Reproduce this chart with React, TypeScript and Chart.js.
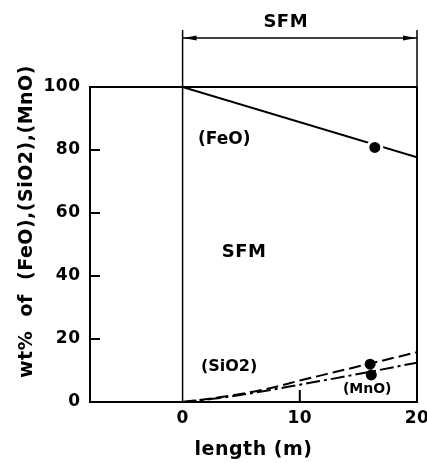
import React, { useEffect, useRef } from "react";
import { Chart, registerables } from "chart.js";

Chart.register(...registerables);

const FONT = "'DejaVu Sans', sans-serif";

// Data
const feoLength = [0, 20];
const feoValues = [100, 77.7];
const sio2Length = [0, 3, 7, 10, 13, 16, 20];
const sio2Values = [0, 1.4, 4.0, 6.8, 9.5, 12.2, 15.8];
const mnoLength = [0, 3, 7, 10, 13, 16, 20];
const mnoValues = [0, 1.2, 3.5, 5.5, 7.5, 9.6, 12.5];
const markerLength = [16.4, 16.0, 16.1];
const markerValues = [80.8, 12.0, 8.6];

const xTicks = [0, 10, 20];
const yTicks = [0, 20, 40, 60, 80, 100];
const innerYTicks = [20, 40, 60, 80];
const innerXTicks = [10];

const zoneStart = 0;
const zoneEnd = 20;
const zoneName = "SFM";

const labelTexts = ["(FeO)", "SFM", "(SiO2)", "(MnO)"];
const labelX = [3.55, 5.24, 3.97, 15.75];
const labelY = [83.2, 47.6, 11.1, 4.1];

const yTitle = "wt%  of  (FeO),(SiO2),(MnO)";
const xTitle = "length (m)";

const toXY = (xs: number[], ys: number[]) => xs.map((x, i) => ({ x, y: ys[i] }));

const labelStyle: Record<string, [string, string]> = {
  "(FeO)": ["bold 17px", "0px"],
  SFM: ["bold 18px", "0.5px"],
  "(SiO2)": ["bold 16px", "0px"],
  "(MnO)": ["bold 14px", "0px"],
};

const decor = {
  id: "decor",
  beforeDraw(chart: any) {
    chart.ctx.letterSpacing = "0.5px";
  },
  beforeDatasetsDraw(chart: any) {
    const { ctx, chartArea: a, scales } = chart;
    const x = scales.x;
    const y = scales.y;
    const line = (x1: number, y1: number, x2: number, y2: number) => {
      ctx.beginPath();
      ctx.moveTo(x1, y1);
      ctx.lineTo(x2, y2);
      ctx.stroke();
    };
    ctx.save();
    ctx.strokeStyle = "#000";
    ctx.fillStyle = "#000";
    ctx.lineCap = "butt";
    // frame
    ctx.lineWidth = 2;
    ctx.strokeRect(a.left, a.top, a.right - a.left, a.bottom - a.top);
    // inner ticks
    innerYTicks.forEach((v) => {
      const py = y.getPixelForValue(v);
      line(a.left, py, a.left + 10, py);
    });
    innerXTicks.forEach((v) => {
      const px = x.getPixelForValue(v);
      line(px, a.bottom, px, a.bottom - 12);
    });
    // zone bracket
    const x0 = x.getPixelForValue(zoneStart);
    const x1 = x.getPixelForValue(zoneEnd);
    ctx.lineWidth = 1.5;
    line(x0, a.top - 57, x0, a.bottom);
    line(x1, a.top - 57, x1, a.top);
    const ay = a.top - 49;
    line(x0, ay, x1, ay);
    ctx.beginPath();
    ctx.moveTo(x0 + 1, ay);
    ctx.lineTo(x0 + 14, ay - 2.6);
    ctx.lineTo(x0 + 14, ay + 2.6);
    ctx.closePath();
    ctx.fill();
    ctx.beginPath();
    ctx.moveTo(x1 - 1, ay);
    ctx.lineTo(x1 - 14, ay - 2.6);
    ctx.lineTo(x1 - 14, ay + 2.6);
    ctx.closePath();
    ctx.fill();
    ctx.restore();
  },
  afterDraw(chart: any) {
    const { ctx, chartArea: a, scales } = chart;
    const x = scales.x;
    const y = scales.y;
    ctx.save();
    ctx.fillStyle = "#000";
    ctx.textAlign = "center";
    ctx.textBaseline = "middle";
    // top zone label
    ctx.letterSpacing = "0.5px";
    ctx.font = `bold 18px ${FONT}`;
    ctx.fillText(zoneName, x.getPixelForValue(8.8), a.top - 65);
    // in-plot labels
    labelTexts.forEach((t, i) => {
      const [f, ls] = labelStyle[t];
      ctx.font = `${f} ${FONT}`;
      ctx.letterSpacing = ls;
      ctx.fillText(t, x.getPixelForValue(labelX[i]), y.getPixelForValue(labelY[i]));
    });
    // y title
    ctx.letterSpacing = "0.5px";
    ctx.font = `bold 19px ${FONT}`;
    ctx.translate(a.left - 63, (a.top + a.bottom) / 2 - 23);
    ctx.rotate(-Math.PI / 2);
    ctx.fillText(yTitle, 0, 0);
    ctx.restore();
  },
};

export default function App() {
  const ref = useRef<HTMLCanvasElement | null>(null);
  useEffect(() => {
    if (!ref.current) return;
    const chart = new Chart(ref.current, {
      type: "line",
      data: {
        datasets: [
          {
            label: "points",
            data: toXY(markerLength, markerValues),
            showLine: false,
            pointRadius: [7, 5.5, 5.5],
            pointBorderWidth: [3, 0, 0],
            pointBorderColor: "#fff",
            pointBackgroundColor: "#000",
          },
          {
            label: "(FeO)",
            data: toXY(feoLength, feoValues),
            borderColor: "#000",
            borderWidth: 2,
            pointRadius: 0,
          },
          {
            label: "(SiO2)",
            data: toXY(sio2Length, sio2Values),
            borderColor: "#000",
            borderWidth: 2,
            borderDash: [12, 5],
            pointRadius: 0,
            cubicInterpolationMode: "monotone",
          },
          {
            label: "(MnO)",
            data: toXY(mnoLength, mnoValues),
            borderColor: "#000",
            borderWidth: 2,
            borderDash: [14, 4, 3, 4],
            pointRadius: 0,
            cubicInterpolationMode: "monotone",
          },
        ],
      },
      options: {
        animation: false,
        responsive: true,
        maintainAspectRatio: false,
        layout: { padding: { left: 0, right: 8, top: 87, bottom: 0 } },
        plugins: { legend: { display: false }, tooltip: { enabled: false } },
        scales: {
          x: {
            type: "linear",
            min: -7.9,
            max: 20,
            afterBuildTicks: (s: any) => {
              s.ticks = xTicks.map((v) => ({ value: v }));
            },
            afterFit: (s: any) => {
              s.height = 61;
              s.paddingLeft = 0;
              s.paddingRight = 0;
            },
            grid: { display: false, drawTicks: false },
            border: { display: false },
            ticks: {
              color: "#000",
              font: { family: FONT, size: 17, weight: "bold" },
              padding: 6,
              maxRotation: 0,
              autoSkip: false,
            },
            title: {
              display: true,
              text: xTitle,
              color: "#000",
              font: { family: FONT, size: 19, weight: "bold" },
              padding: { top: 0, bottom: 2 },
            },
          },
          y: {
            type: "linear",
            min: 0,
            max: 100,
            afterBuildTicks: (s: any) => {
              s.ticks = yTicks.map((v) => ({ value: v }));
            },
            afterFit: (s: any) => {
              s.width = 90;
              s.paddingTop = 0;
              s.paddingBottom = 0;
            },
            grid: { display: false, drawTicks: false },
            border: { display: false },
            ticks: {
              color: "#000",
              font: { family: FONT, size: 17, weight: "bold" },
              padding: 9.5,
            },
          },
        },
      },
      plugins: [decor],
    } as any);
    return () => chart.destroy();
  }, []);
  return (
    <div style={{ position: "absolute", left: 0, top: 0, width: 427, height: 463, background: "#fff" }}>
      <canvas ref={ref} />
    </div>
  );
}
